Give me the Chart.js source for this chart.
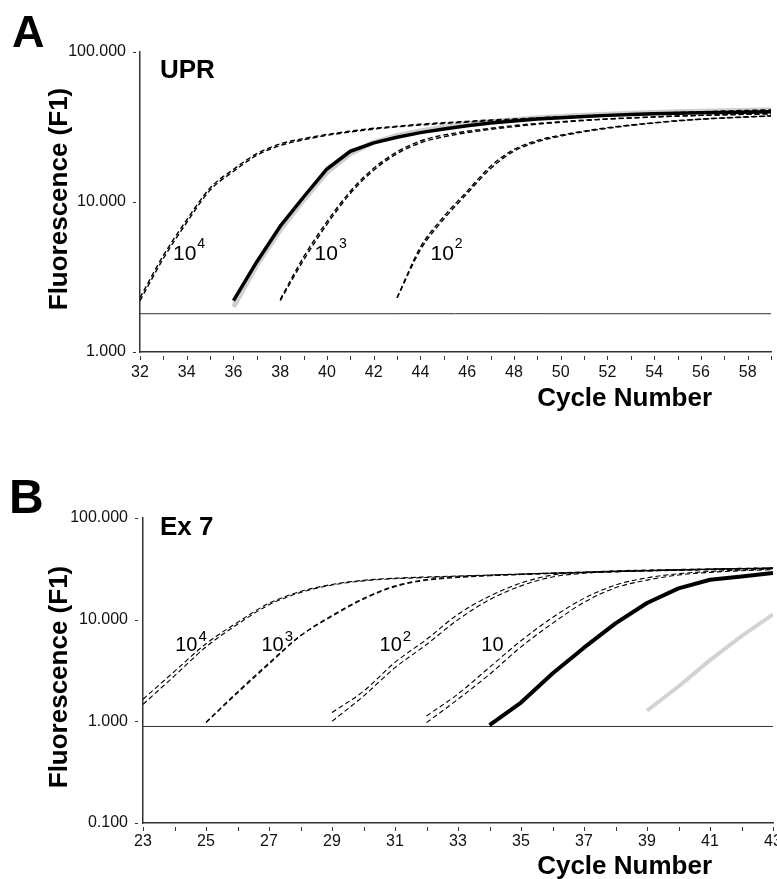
<!DOCTYPE html>
<html>
<head>
<meta charset="utf-8">
<title>Real-time PCR amplification curves</title>
<script src="https://cdn.jsdelivr.net/npm/chart.js@4.4.1/dist/chart.umd.min.js"></script>
<style>
  html, body { margin: 0; padding: 0; background: #fff; }
  #wrap { position: relative; width: 777px; height: 879px; overflow: hidden; }
  canvas { position: absolute; left: 0; }
  #chartA { top: 0; }
  #chartB { top: 440px; }
</style>
</head>
<body>
<div id="wrap">
  <canvas id="chartA" width="777" height="440"></canvas>
  <canvas id="chartB" width="777" height="439"></canvas>
</div>
<script>
// ---- panel A (UPR) ----
const cyclesA = [32, 33, 34, 35, 36, 37, 38, 39, 40, 41, 42, 43, 44, 45, 46, 47, 48, 49, 50, 51, 52, 53, 54, 55, 56, 57, 58, 59];
const uprStd1e4a = [2.3, 4.4, 7.6, 12.4, 16.5, 21.0, 24.4, 26.5, 28.2, 29.7, 31.0, 32.0, 33.0, 33.8, 34.5, 35.2, 35.8, 36.4, 37.0, 37.5, 38.0, 38.5, 39.0, 39.5, 40.0, 40.4, 40.8, 41.2];
const uprStd1e4b = [2.2, 4.2, 7.3, 12.0, 16.0, 20.5, 23.8, 26.0, 27.8, 29.3, 30.6, 31.7, 32.6, 33.4, 34.1, 34.8, 35.4, 36.0, 36.6, 37.1, 37.6, 38.1, 38.6, 39.1, 39.5, 39.9, 40.3, 40.6];
const uprStd1e3a = [null, null, null, null, null, null, 2.24, 4.3, 7.4, 11.8, 16.8, 21.6, 25.5, 28.0, 29.6, 31.0, 32.3, 33.4, 34.3, 35.1, 35.8, 36.4, 36.9, 37.4, 37.8, 38.2, 38.5, 38.8];
const uprStd1e3b = [null, null, null, null, null, null, 2.2, 4.1, 7.1, 11.4, 16.3, 21.0, 24.8, 27.2, 29.0, 30.5, 31.8, 33.0, 34.0, 34.9, 35.7, 36.3, 36.9, 37.4, 37.8, 38.1, 38.4, 38.6];
const uprStd1e2a = [null, null, null, null, null, null, null, null, null, null, null, 2.3, 5.0, 8.0, 11.8, 17.3, 22.4, 25.7, 27.9, 29.7, 31.3, 32.6, 33.8, 34.9, 35.7, 36.4, 37.0, 37.5];
const uprStd1e2b = [null, null, null, null, null, null, null, null, null, null, null, 2.3, 4.8, 7.7, 11.4, 16.7, 21.8, 25.2, 27.5, 29.4, 31.0, 32.4, 33.6, 34.7, 35.6, 36.3, 36.9, 37.4];
const uprSampleBlack = [null, null, null, null, 2.2, 4.0, 6.9, 10.8, 16.6, 21.8, 24.8, 27.0, 29.0, 30.7, 32.2, 33.6, 34.7, 35.7, 36.5, 37.2, 37.8, 38.3, 38.7, 39.0, 39.3, 39.5, 39.7, 39.9];
const uprSampleGrey = [null, null, null, null, 2.0, 3.8, 6.5, 10.3, 15.8, 21.0, 25.0, 27.8, 29.8, 31.5, 33.0, 34.3, 35.4, 36.4, 37.2, 37.9, 38.5, 39.0, 39.5, 39.9, 40.3, 40.6, 40.9, 41.2];
const thresholdA = 1.8;
const yTicksA = [1, 10, 100];

// ---- panel B (Ex 7) ----
const cyclesB = [23, 24, 25, 26, 27, 28, 29, 30, 31, 32, 33, 34, 35, 36, 37, 38, 39, 40, 41, 42, 43];
const ex7Std1e4a = [1.65, 3.1, 5.8, 9.4, 14.5, 18.9, 22.2, 24.4, 25.6, 26.3, 26.9, 27.5, 28.1, 28.7, 29.2, 29.8, 30.3, 30.8, 31.3, 31.8, 32.2];
const ex7Std1e4b = [1.47, 2.8, 5.4, 9.0, 14.0, 18.5, 21.9, 24.1, 25.3, 26.0, 26.7, 27.3, 27.9, 28.5, 29.0, 29.6, 30.1, 30.6, 31.1, 31.6, 32.0];
const ex7Std1e3a = [null, null, 0.98, 1.95, 3.75, 7.0, 11.0, 16.2, 21.5, 24.8, 26.4, 27.3, 28.1, 28.8, 29.4, 30.0, 30.5, 31.0, 31.4, 31.8, 32.2];
const ex7Std1e3b = [null, null, 0.97, 1.9, 3.65, 6.9, 10.8, 15.9, 21.1, 24.4, 26.0, 27.0, 27.8, 28.5, 29.1, 29.7, 30.2, 30.7, 31.1, 31.5, 31.9];
const ex7Std1e2a = [null, null, null, null, null, null, 1.22, 1.98, 3.8, 6.4, 11.3, 17.0, 22.9, 27.5, 29.3, 30.2, 30.8, 31.2, 31.6, 32.0, 32.3];
const ex7Std1e2b = [null, null, null, null, null, null, 1.0, 1.77, 3.37, 5.7, 10.0, 15.7, 21.5, 26.3, 28.6, 29.6, 30.3, 30.8, 31.3, 31.7, 32.0];
const ex7Std10a = [null, null, null, null, null, null, null, null, null, 1.13, 1.86, 3.4, 6.2, 10.5, 16.2, 21.9, 25.8, 28.3, 29.8, 30.7, 31.5];
const ex7Std10b = [null, null, null, null, null, null, null, null, null, 0.97, 1.65, 2.9, 5.4, 9.2, 14.8, 20.6, 24.5, 27.5, 29.2, 30.3, 31.1];
const ex7SampleBlack = [null, null, null, null, null, null, null, null, null, null, null, 0.92, 1.53, 2.95, 5.3, 9.2, 14.6, 20.3, 24.7, 26.6, 28.8];
const ex7SampleGrey = [null, null, null, null, null, null, null, null, null, null, null, null, null, null, null, null, 1.27, 2.2, 4.0, 6.9, 11.3];
const thresholdB = 0.89;
const yTicksB = [0.1, 1, 10, 100];

// dilution labels: [base, exponent, cycle, fluorescence] (left end of text, baseline)
const labelsA = [['10', '4', 33.41, 4.1], ['10', '3', 39.47, 4.1], ['10', '2', 44.43, 4.1]];
const labelsB = [['10', '4', 24.02, 4.9], ['10', '3', 26.76, 4.9], ['10', '2', 30.51, 4.9], ['10', '', 33.74, 4.9]];

const FONT = '"Liberation Sans", Arial, Helvetica, sans-serif';
const AXIS = '#333';

function points(cycles, values){
    return cycles.map((c, i) => ({x: c, y: values[i]})).filter(p => p.y != null);
}

function dashed(cycles, values, width){
    return {
        data: points(cycles, values),
        borderColor: '#000',
        borderWidth: width,
        borderDash: [5, 3],
        cubicInterpolationMode: 'monotone',
        pointRadius: 0,
        order: 1
    };
}

function solid(cycles, values, color, width, order){
    return {
        data: points(cycles, values),
        borderColor: color,
        borderWidth: width,
        borderJoinStyle: 'round',
        borderCapStyle: 'butt',
        tension: 0,
        pointRadius: 0,
        order: order
    };
}

function flat(cycles, value){
    return {
        data: [{x: cycles[0], y: value}, {x: cycles[cycles.length - 1], y: value}],
        borderColor: AXIS,
        borderWidth: 1,
        pointRadius: 0,
        order: 3
    };
}

// tick marks with a small gap, titles and curve labels
const panelDecor = {
    id: 'panelDecor',
    afterDraw(chart, args, o){
        const ctx = chart.ctx;
        const area = chart.chartArea;
        const xs = chart.scales.x, ys = chart.scales.y;
        ctx.save();

        ctx.strokeStyle = AXIS;
        ctx.lineWidth = 1;
        ctx.beginPath();
        for(const t of xs.ticks){
            const px = Math.round(xs.getPixelForValue(t.value)) + 0.5;
            ctx.moveTo(px, area.bottom + o.xTick[0]);
            ctx.lineTo(px, area.bottom + o.xTick[1]);
        }
        for(const t of ys.ticks){
            const py = Math.round(ys.getPixelForValue(t.value)) + 0.5;
            ctx.moveTo(area.left - o.yTick[0], py);
            ctx.lineTo(area.left - o.yTick[1], py);
        }
        ctx.stroke();

        ctx.fillStyle = '#000';
        ctx.textBaseline = 'alphabetic';
        ctx.textAlign = 'left';

        ctx.font = 'bold ' + o.letter.size + 'px ' + FONT;
        ctx.fillText(o.letter.text, o.letter.x, o.letter.y);

        ctx.font = 'bold ' + o.name.size + 'px ' + FONT;
        ctx.fillText(o.name.text, o.name.x, o.name.y);

        ctx.font = 'bold 26px ' + FONT;
        ctx.textAlign = 'right';
        ctx.fillText('Cycle Number', o.xTitle.x, o.xTitle.y);

        ctx.save();
        ctx.translate(o.yTitle.x, o.yTitle.y);
        ctx.rotate(-Math.PI / 2);
        ctx.textAlign = 'center';
        ctx.textBaseline = 'middle';
        ctx.fillText('Fluorescence (F1)', 0, 0);
        ctx.restore();

        ctx.textAlign = 'left';
        for(const [base, sup, cx, fy] of o.labels){
            const px = xs.getPixelForValue(cx);
            const py = ys.getPixelForValue(fy);
            ctx.font = o.labelSize + 'px ' + FONT;
            ctx.fillText(base, px, py);
            if(sup){
                const w = ctx.measureText(base).width;
                ctx.font = o.supSize + 'px ' + FONT;
                ctx.fillText(sup, px + w + 1, py - o.supRise);
            }
        }
        ctx.restore();
    }
};

function makePanel(canvas, p){
    return new Chart(canvas, {
        type: 'line',
        data: {datasets: p.datasets},
        plugins: [panelDecor],
        options: {
            responsive: false,
            devicePixelRatio: 1,
            animation: false,
            events: [],
            layout: {padding: {top: p.area.top, right: canvas.width - p.area.right, left: 0, bottom: 0}},
            plugins: {
                legend: {display: false},
                tooltip: {enabled: false},
                panelDecor: p.decor
            },
            scales: {
                x: {
                    type: 'linear',
                    min: p.xMin,
                    max: p.xMax,
                    grid: {display: false, drawTicks: false},
                    border: {display: true, color: AXIS, width: 1.5},
                    ticks: {
                        stepSize: 1,
                        autoSkip: false,
                        maxRotation: 0,
                        padding: p.xPad,
                        color: '#111',
                        font: {family: FONT, size: 16},
                        callback: v => (v % 2 === p.xLabelParity ? String(v) : '')
                    },
                    afterFit: s => { s.height = canvas.height - p.area.bottom; s.paddingLeft = 0; s.paddingRight = 0; }
                },
                y: {
                    type: 'logarithmic',
                    min: p.yTicks[0],
                    max: p.yTicks[p.yTicks.length - 1],
                    grid: {display: false, drawTicks: false},
                    border: {display: true, color: AXIS, width: 1.5},
                    afterBuildTicks: s => { s.ticks = p.yTicks.map(v => ({value: v})); },
                    ticks: {
                        autoSkip: false,
                        padding: p.yPad,
                        color: '#111',
                        font: {family: FONT, size: 16},
                        callback: v => Number(v).toFixed(3)
                    },
                    afterFit: s => { s.width = p.area.left; s.paddingTop = 0; s.paddingBottom = 0; }
                }
            }
        }
    });
}

makePanel(document.getElementById('chartA'), {
    area: {left: 140, top: 52, right: 771, bottom: 352},
    xMin: 32, xMax: 59, xLabelParity: 0, xPad: 11, yPad: 14,
    yTicks: yTicksA,
    datasets: [
        solid(cyclesA, uprSampleBlack, '#000', 3.5, 0),
        dashed(cyclesA, uprStd1e4a, 1.4), dashed(cyclesA, uprStd1e4b, 1.4),
        dashed(cyclesA, uprStd1e3a, 1.4), dashed(cyclesA, uprStd1e3b, 1.4),
        dashed(cyclesA, uprStd1e2a, 1.4), dashed(cyclesA, uprStd1e2b, 1.4),
        solid(cyclesA, uprSampleGrey, '#cfcfcf', 5, 2),
        flat(cyclesA, thresholdA)
    ],
    decor: {
        xTick: [4, 8], yTick: [7, 4],
        letter: {text: 'A', size: 45, x: 12, y: 47},
        name: {text: 'UPR', size: 26, x: 160, y: 78},
        xTitle: {x: 712, y: 406},
        yTitle: {x: 60, y: 199},
        labels: labelsA, labelSize: 21, supSize: 14, supRise: 12
    }
});

makePanel(document.getElementById('chartB'), {
    area: {left: 143, top: 78, right: 773, bottom: 383},
    xMin: 23, xMax: 43, xLabelParity: 1, xPad: 9, yPad: 15,
    yTicks: yTicksB,
    datasets: [
        solid(cyclesB, ex7SampleBlack, '#000', 4, 0),
        dashed(cyclesB, ex7Std1e4a, 1.1), dashed(cyclesB, ex7Std1e4b, 1.1),
        dashed(cyclesB, ex7Std1e3a, 1.1), dashed(cyclesB, ex7Std1e3b, 1.1),
        dashed(cyclesB, ex7Std1e2a, 1.1), dashed(cyclesB, ex7Std1e2b, 1.1),
        dashed(cyclesB, ex7Std10a, 1.1), dashed(cyclesB, ex7Std10b, 1.1),
        solid(cyclesB, ex7SampleGrey, '#d3d3d3', 4, 2),
        flat(cyclesB, thresholdB)
    ],
    decor: {
        xTick: [4, 8], yTick: [8, 5],
        letter: {text: 'B', size: 48, x: 9, y: 73},
        name: {text: 'Ex 7', size: 26, x: 160, y: 95},
        xTitle: {x: 712, y: 434},
        yTitle: {x: 60, y: 237},
        labels: labelsB, labelSize: 20, supSize: 15, supRise: 10
    }
});
</script>
</body>
</html>
